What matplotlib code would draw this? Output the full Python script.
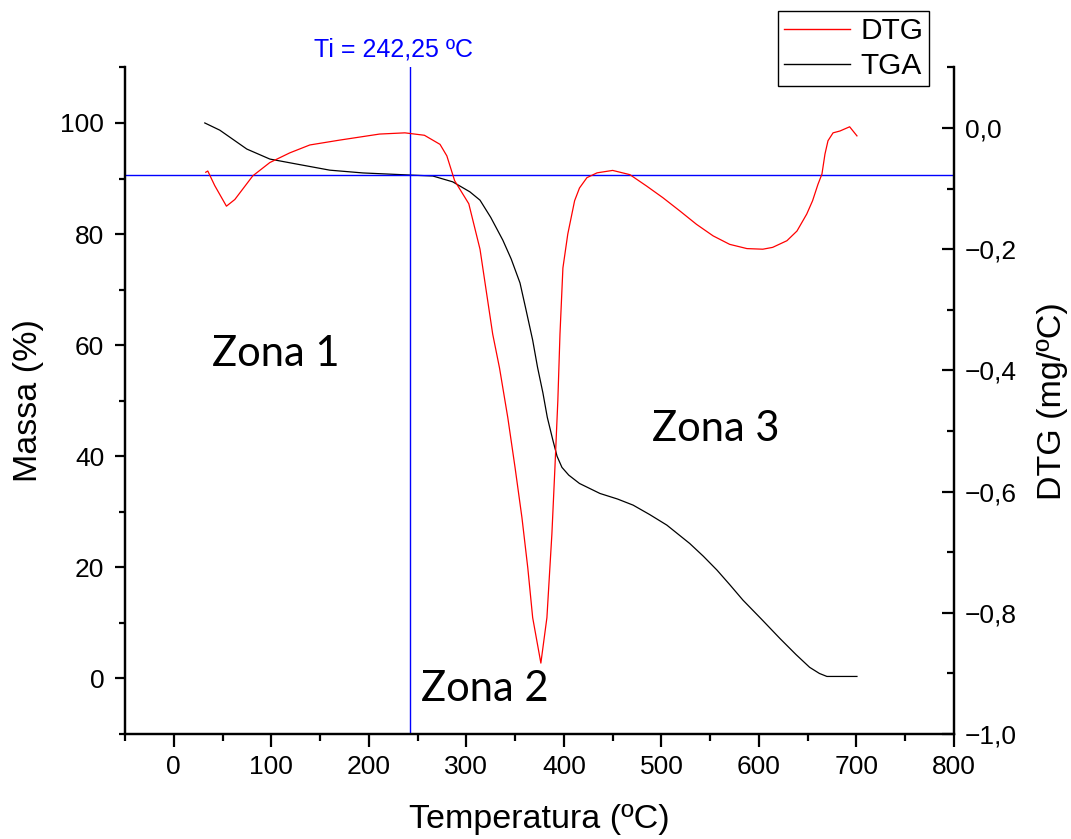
import matplotlib
matplotlib.use("Agg")
import matplotlib.pyplot as plt
from matplotlib.ticker import MultipleLocator, FuncFormatter
from matplotlib.lines import Line2D

# ---- data ----
tga_temp = [31.8, 47.2, 74.9, 98.5, 126, 160, 194, 245, 265.6, 286, 303.6, 314, 325,
            337.4, 346, 355, 361, 368, 373, 378.5, 383, 388.7, 393, 398, 405, 416, 437,
            455, 471, 488, 505.6, 529, 543, 557, 570, 583.6, 603, 621.5, 638, 652, 662,
            669.7, 700.5]
tga_mass = [100.0, 98.7, 95.3, 93.5, 92.6, 91.5, 91.0, 90.6, 90.45, 89.4, 87.6, 86.1, 83.0,
            78.9, 75.5, 71.2, 66.5, 60.9, 56.0, 51.4, 47.0, 42.9, 40.0, 38.0, 36.6, 35.1, 33.3,
            32.3, 31.2, 29.5, 27.6, 24.3, 22.0, 19.5, 16.9, 14.1, 10.6, 7.2, 4.3, 2.0, 0.9,
            0.36, 0.36]

dtg_temp = [32.8, 34.9, 42, 54, 62.6, 81, 98.5, 119, 139.5, 170, 211, 237, 257, 273,
            280, 288, 302.5, 314, 327, 334, 342.5, 350, 357, 363, 368, 376.4, 382.6,
            387.7, 390.8, 393.8, 396, 399, 404, 411, 416, 423.6, 434, 450, 467.7, 485,
            501.5, 519, 536, 553, 570, 587.7, 604, 614, 628.7, 639, 649, 655, 660.5,
            664.6, 667.7, 670.8, 676, 683, 693, 700.5]
dtg_vals = [-0.073, -0.071, -0.095, -0.129, -0.118, -0.079, -0.057, -0.041, -0.028,
            -0.020, -0.010, -0.008, -0.012, -0.027, -0.046, -0.087, -0.125, -0.200,
            -0.340, -0.396, -0.478, -0.561, -0.643, -0.726, -0.808, -0.883, -0.808,
            -0.670, -0.561, -0.450, -0.340, -0.231, -0.175, -0.120, -0.099, -0.082,
            -0.074, -0.070, -0.077, -0.096, -0.115, -0.137, -0.159, -0.178, -0.192,
            -0.199, -0.200, -0.197, -0.186, -0.170, -0.142, -0.120, -0.093, -0.076,
            -0.043, -0.021, -0.008, -0.005, 0.002, -0.013]

ti_temp = 242.25
ti_mass = 90.6
zone_labels = ["Zona 1", "Zona 2", "Zona 3"]
zone_pos = [(39, 56.3), (254, -4.0), (490, 42.8)]

# ---- figure ----
plt.rcParams['font.family'] = ['Liberation Sans', 'DejaVu Sans']
fig = plt.figure(figsize=(10.71, 8.39), dpi=100)
ax = fig.add_axes([125/1071, 1-734/839, (954-125)/1071, (734-67.4)/839])
ax2 = ax.twinx()

ax.plot(tga_temp, tga_mass, color='black', lw=0.9, label='TGA')
ax2.plot(dtg_temp, dtg_vals, color='red', lw=0.9, label='DTG')
ax.axvline(ti_temp, color='blue', lw=1.0)
ax.axhline(ti_mass, color='blue', lw=1.0)

ax.set_xlim(-50, 800)
ax.set_ylim(-10, 110)
ax2.set_ylim(-1.0, 0.1)

for a in (ax, ax2):
    a.spines['top'].set_visible(False)
    for s in a.spines.values():
        s.set_linewidth(1.6)

ax.xaxis.set_major_locator(MultipleLocator(100))
ax.xaxis.set_minor_locator(MultipleLocator(50))
ax.yaxis.set_major_locator(MultipleLocator(20))
ax.yaxis.set_minor_locator(MultipleLocator(10))
ax2.yaxis.set_major_locator(MultipleLocator(0.2))
ax2.yaxis.set_minor_locator(MultipleLocator(0.1))

def fmt_dtg(v, pos):
    s = f"{abs(v):.1f}".replace('.', ',')
    return ("\u2212" + s) if v < -1e-9 else s

ax2.yaxis.set_major_formatter(FuncFormatter(fmt_dtg))

ax.tick_params(axis='x', which='major', direction='out', length=9, width=1.6,
               labelsize=19, pad=6)
ax.tick_params(axis='x', which='minor', direction='out', length=5, width=1.6)
ax.tick_params(axis='y', which='major', direction='out', length=7, width=1.6,
               labelsize=19, pad=8)
ax.tick_params(axis='y', which='minor', direction='out', length=4, width=1.6)
ax2.tick_params(axis='y', which='major', direction='in', length=9, width=1.6,
                labelsize=19, pad=8)
ax2.tick_params(axis='y', which='minor', direction='in', length=5, width=1.6)

ax.set_xlabel("Temperatura (ºC)", fontsize=24.5, labelpad=18)
ax.set_ylabel("Massa (%)", fontsize=24.5, labelpad=12)
ax2.set_ylabel("DTG (mg/ºC)", fontsize=24.5, labelpad=14)

for lab, (x, y) in zip(zone_labels, zone_pos):
    ax.text(x, y, lab, fontsize=30, family=['Lato', 'DejaVu Sans'],
            ha='left', va='baseline', color='black')

fig.text(394/1071, 1-56/839, f"Ti = {ti_temp:.2f}".replace('.', ',') + " ºC",
         color='blue', fontsize=18, ha='center', va='baseline')

handles = [Line2D([], [], color='red', lw=1.0), Line2D([], [], color='black', lw=1.0)]
leg = fig.legend(handles, ['DTG', 'TGA'], loc='upper left',
                 bbox_to_anchor=(778/1071, 1-11/839), fontsize=21.5,
                 frameon=True, fancybox=False, framealpha=1, edgecolor='black',
                 handlelength=2.2, handletextpad=0.35, borderpad=0.2,
                 labelspacing=0.25, borderaxespad=0)
leg.get_frame().set_linewidth(1.0)

fig.savefig("out.png", dpi=100)
